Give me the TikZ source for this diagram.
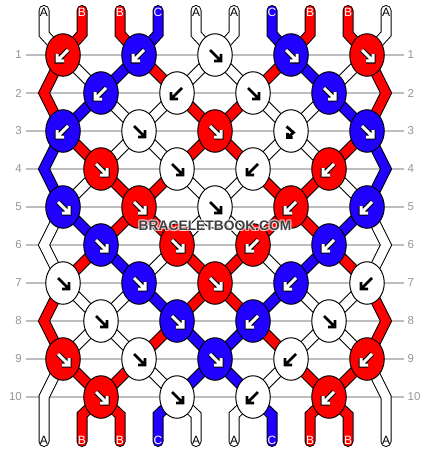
\documentclass[tikz,border=0pt]{standalone}
\usepackage{fontspec}
\setmainfont{Liberation Sans}
\usetikzlibrary{shapes.geometric}
\definecolor{cA}{RGB}{255,255,255}
\definecolor{cB}{RGB}{255,0,0}
\definecolor{cC}{RGB}{32,0,255}
\definecolor{gridgray}{RGB}{190,190,190}
\definecolor{numgray}{RGB}{150,150,150}
\definecolor{wmgray}{RGB}{64,64,64}
\tikzset{
 knotshape/.style={ellipse, draw=black, line width=1pt, minimum width=34.5pt, minimum height=42.5pt, inner sep=0pt},
 gridline/.style={draw=gridgray, line width=1.2pt},
 rownum/.style={text=numgray, font=\fontsize{11.5}{12}\selectfont, inner sep=0pt},
 strlab/.style={font=\fontsize{12}{12}\selectfont, inner sep=0pt},
 wm/.style={font=\fontsize{13.8}{14}\selectfont\bfseries, inner sep=0pt},
 bandout/.style={line width=11pt, draw=black, line cap=round, line join=miter},
 bandfill/.style={line width=9pt, line cap=round, line join=miter},
}
\newcommand\shSE[1]{\draw[#1] (-5,-5) -- (5.5,5.5) (6,-1) -- (6,6) -- (-1,6);}
\newcommand\shSW[1]{\draw[#1] (5,-5) -- (-5.5,5.5) (-6,-1) -- (-6,6) -- (1,6);}
\newcommand\shSP[1]{\draw[#1] (-4.5,-4.5) -- (2.5,1.5) -- (-3.5,6.5) (-3.5,1.8) -- (-3.5,6.5) -- (1.5,6.5);}
\newcommand\strand[4]{%
 \draw[bandout] (#1,10.5) -- (#1,34) \foreach \x [count=\i] in {#3} { -- (\x,{55+38*(\i-1)}) } -- (#4,415) -- (#4,441.5);
 \draw[bandfill, draw=#2] (#1,10.5) -- (#1,34) \foreach \x [count=\i] in {#3} { -- (\x,{55+38*(\i-1)}) } -- (#4,415) -- (#4,441.5);
}
\newcommand\knot[4]{%
 \node[knotshape, fill=#3] (k-#1-#2) at (#1,#2) {};
 \edef\tmpa{#3}\def\tmpb{cA}%
 \begin{scope}[shift={(#1,#2)}, line cap=butt, line join=miter]
 \ifx\tmpa\tmpb
   \csname sh#4\endcsname{line width=2.8pt, black}
 \else
   \csname sh#4\endcsname{line width=5pt, black}
   \csname sh#4\endcsname{line width=3pt, white}
 \fi
 \end{scope}}
\begin{document}
\begin{tikzpicture}[x=1pt,y=-1pt]
\useasboundingbox (0,0) rectangle (430,452);
\fill[white] (0,0) rectangle (430,452);
% grid lines and row numbers
\foreach \r in {1,...,10} {
  \pgfmathsetmacro\yy{55+38*(\r-1)}
  \draw[gridline] (26,\yy) -- (404,\yy);
  \node[rownum, anchor=east] (L\r) at (22,\yy) {\r};
  \node[rownum, anchor=west] (R\r) at (407.5,\yy) {\r};
}
% strings
\strand{44}{cA}{63,101,139,177,215,253,291,329,367,386}{386}
\strand{82}{cB}{63,44,63,101,139,177,215,253,291,329}{348}
\strand{120}{cB}{139,177,215,253,291,329,367,386,367,329}{310}
\strand{158}{cC}{139,101,63,44,63,101,139,177,215,253}{272}
\strand{196}{cA}{215,253,291,253,215,177,139,101,63,44}{44}
\strand{234}{cA}{215,177,139,101,63,44,63,101,139,177}{196}
\strand{272}{cC}{291,329,367,386,367,329,291,253,215,177}{158}
\strand{310}{cB}{291,253,215,177,139,101,63,44,63,101}{120}
\strand{348}{cB}{367,386,367,329,291,253,215,177,139,101}{82}
\strand{386}{cA}{367,329,291,329,367,386,367,329,291,253}{234}
% knots
\foreach \x/\c/\t in {63/cB/SW,139/cC/SW,215/cA/SE,291/cC/SE,367/cB/SE} {\knot{\x}{55}{\c}{\t}}
\foreach \x/\c/\t in {101/cC/SW,177/cA/SW,253/cA/SE,329/cC/SE} {\knot{\x}{93}{\c}{\t}}
\foreach \x/\c/\t in {63/cC/SW,139/cA/SE,215/cB/SE,291/cA/SP,367/cC/SE} {\knot{\x}{131}{\c}{\t}}
\foreach \x/\c/\t in {101/cB/SE,177/cA/SE,253/cA/SW,329/cB/SW} {\knot{\x}{169}{\c}{\t}}
\foreach \x/\c/\t in {63/cC/SE,139/cB/SE,215/cA/SE,291/cB/SW,367/cC/SW} {\knot{\x}{207}{\c}{\t}}
\foreach \x/\c/\t in {101/cC/SE,177/cB/SE,253/cB/SW,329/cC/SW} {\knot{\x}{245}{\c}{\t}}
\foreach \x/\c/\t in {63/cA/SE,139/cC/SE,215/cB/SE,291/cC/SW,367/cA/SW} {\knot{\x}{283}{\c}{\t}}
\foreach \x/\c/\t in {101/cA/SE,177/cC/SE,253/cC/SW,329/cA/SE} {\knot{\x}{321}{\c}{\t}}
\foreach \x/\c/\t in {63/cB/SE,139/cA/SE,215/cC/SE,291/cA/SW,367/cB/SW} {\knot{\x}{359}{\c}{\t}}
\foreach \x/\c/\t in {101/cB/SE,177/cA/SE,253/cA/SW,329/cB/SW} {\knot{\x}{397}{\c}{\t}}
% string labels
\foreach \x/\l/\tc [count=\n] in {44/A/black,82/B/white,120/B/white,158/C/white,196/A/black,234/A/black,272/C/white,310/B/white,348/B/white,386/A/black} {
  \node[strlab, text=\tc] (top\n) at (\x,12.5) {\l};
  \node[strlab, text=\tc] (bot\n) at (\x,440.5) {\l};
}
% watermark: light halo then dark text
\foreach \dx/\dy in {-1/-1,1/-1,-1/1,1/1} {
  \node[wm, text=white, opacity=0.65] at ({215+\dx},{226+\dy}) {BRACELETBOOK.COM};
}
\node[wm, text=wmgray] (wm) at (215,226) {BRACELETBOOK.COM};
\end{tikzpicture}
\end{document}
